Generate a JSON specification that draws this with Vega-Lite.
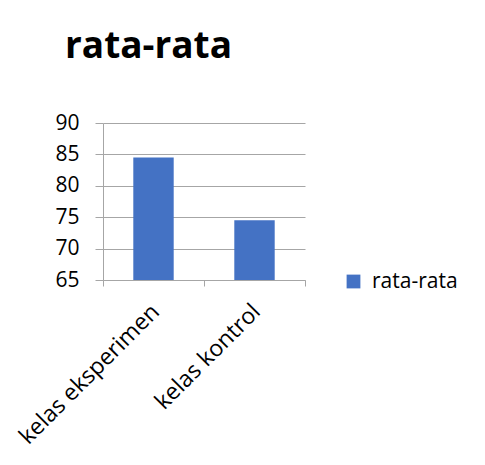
{
  "$schema": "https://vega.github.io/schema/vega-lite/v6.json",
  "width": 202,
  "height": 157,
  "autosize": {"type": "none"},
  "padding": {"left": 103, "top": 123, "right": 180, "bottom": 185},
  "background": "white",
  "title": {
    "text": "rata-rata",
    "anchor": "start",
    "frame": "group",
    "font": "Open Sans",
    "fontSize": 37,
    "fontWeight": "bold",
    "color": "#000000",
    "dx": -38,
    "offset": 46
  },
  "data": {
    "values": [
      {"kelas": "kelas eksperimen", "nilai": 84.5},
      {"kelas": "kelas kontrol", "nilai": 74.5}
    ]
  },
  "mark": {"type": "bar", "width": {"band": 0.4}, "clip": true},
  "encoding": {
    "x": {
      "field": "kelas",
      "type": "nominal",
      "sort": null,
      "scale": {"paddingInner": 0, "paddingOuter": 0},
      "axis": {
        "title": null,
        "labelAngle": -45,
        "labelFont": "Open Sans",
        "labelFontSize": 23,
        "labelColor": "#000000",
        "labelPadding": 14,
        "labelOffset": -6,
        "labelLimit": 0,
        "labelOverlap": false,
        "tickBand": "extent",
        "tickSize": 6,
        "tickColor": "#a6a6a6",
        "domainColor": "#a6a6a6",
        "grid": false
      }
    },
    "y": {
      "field": "nilai",
      "type": "quantitative",
      "scale": {"domain": [65, 90], "zero": false, "nice": false},
      "axis": {
        "title": null,
        "values": [65, 70, 75, 80, 85, 90],
        "labelFont": "Open Sans",
        "labelFontSize": 21,
        "labelColor": "#000000",
        "labelPadding": 16,
        "tickSize": 8,
        "tickColor": "#a6a6a6",
        "domainColor": "#a6a6a6",
        "gridColor": "#a6a6a6",
        "grid": true
      }
    },
    "color": {
      "datum": "rata-rata",
      "type": "nominal",
      "scale": {"range": ["#4472C4"]},
      "legend": {
        "title": null,
        "orient": "none",
        "legendX": 240,
        "legendY": 148,
        "symbolType": "square",
        "symbolSize": 190,
        "symbolStrokeWidth": 0,
        "labelFont": "Open Sans",
        "labelFontSize": 21,
        "labelColor": "#000000",
        "labelOffset": 8
      }
    }
  },
  "config": {
    "view": {"stroke": null},
    "axis": {"domainWidth": 1, "tickWidth": 1, "gridWidth": 1}
  }
}
